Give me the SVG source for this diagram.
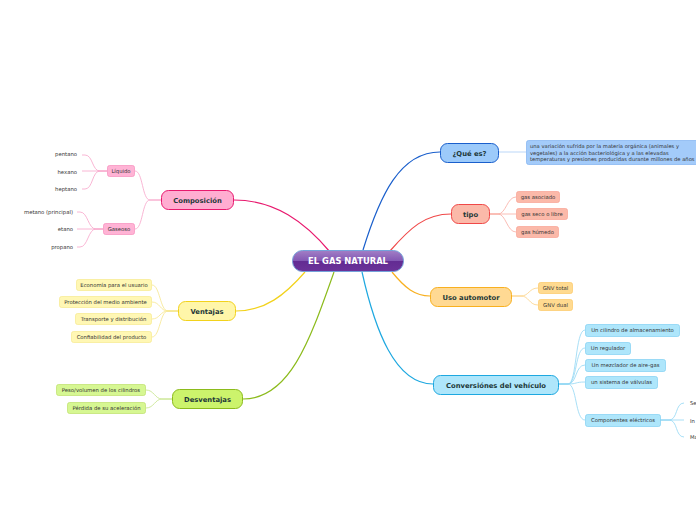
<svg xmlns="http://www.w3.org/2000/svg" width="696" height="520" viewBox="0 0 696 520">
<defs>
<linearGradient id="cg" x1="0" y1="0" x2="0" y2="1">
<stop offset="0" stop-color="#a27fc6"/>
<stop offset="0.5" stop-color="#8257b3"/>
<stop offset="0.52" stop-color="#632c93"/>
<stop offset="1" stop-color="#6b3299"/>
</linearGradient>
</defs>
<style>
text{font-family:"DejaVu Sans","Liberation Sans",sans-serif;}
.main{font-size:6.8px;font-weight:bold;fill:#1d3838;text-anchor:middle;}
.leaf{font-size:5.3px;fill:#333;text-anchor:middle;}
.lt{font-size:5.3px;fill:#333;text-anchor:end;}
.c{fill:none;stroke-width:1.2;}
.s{fill:none;stroke-width:0.8;}
</style>
<rect width="696" height="520" fill="#ffffff"/>
<g id="connectors">
<path class="c" stroke="#e8196e" d="M330 252 C305 222 275 200 234 200"/>
<path class="c" stroke="#f2d21c" d="M305 272 C285 295 265 311 236 311"/>
<path class="c" stroke="#8cbb1c" d="M334 272 C310 340 290 399 243 399"/>
<path class="c" stroke="#1a5fcc" d="M363 250 C380 195 400 152 440 152"/>
<path class="c" stroke="#f04848" d="M390 251 C410 228 425 214 451 214"/>
<path class="c" stroke="#f8b020" d="M392 272 C405 288 415 296 430 296"/>
<path class="c" stroke="#1ea8e0" d="M362 272 C375 330 395 384 433 384"/>
<g class="s" stroke="#f7a3c9">
<path d="M161 200 H150 C142 200 143 171 135 171"/>
<path d="M161 200 H150 C142 200 143 229 135 229"/>
<path d="M107 171 H100 C92 171 93 155 85 155 H82"/>
<path d="M107 171 H82"/>
<path d="M107 171 H100 C92 171 93 189 85 189 H82"/>
<path d="M103 229 H96 C88 229 88 212 80 212 H77"/>
<path d="M103 229 H77"/>
<path d="M103 229 H96 C88 229 88 247 80 247 H77"/>
</g>
<g class="s" stroke="#f6e68c">
<path d="M178 311 H168 C160 311 160 285 152 285"/>
<path d="M178 311 H168 C160 311 160 302 152 302"/>
<path d="M178 311 H168 C160 311 160 319 152 319"/>
<path d="M178 311 H168 C160 311 160 337 152 337"/>
</g>
<g class="s" stroke="#c4e386">
<path d="M172 399 H162 C155 399 154 390 146 390"/>
<path d="M172 399 H162 C155 399 154 408 146 408"/>
</g>
<path class="s" stroke="#a9cdf6" stroke-width="1.2" d="M498 152 H526"/>
<g class="s" stroke="#f9aca2">
<path d="M489 214 H498 C506 214 507 197 516 197"/>
<path d="M489 214 H516"/>
<path d="M489 214 H498 C506 214 507 232 516 232"/>
</g>
<g class="s" stroke="#fcd283">
<path d="M512 296 H521 C529 296 529 288 538 288"/>
<path d="M512 296 H521 C529 296 529 305 538 305"/>
</g>
<g class="s" stroke="#92d7f4">
<path d="M559 384 H568 C577 384 575 330 585 330"/>
<path d="M559 384 H568 C577 384 575 348 585 348"/>
<path d="M559 384 H568 C577 384 575 365 585 365"/>
<path d="M559 384 H568 C577 384 575 382 585 382"/>
<path d="M559 384 H568 C577 384 575 420 585 420"/>
<path d="M660 420 H669 C678 420 675 403 684 403"/>
<path d="M660 420 H684"/>
<path d="M660 420 H669 C678 420 675 437 684 437"/>
</g>
</g>
<g id="central">
<rect x="292.5" y="250.5" width="111" height="21" rx="10" fill="url(#cg)" stroke="#74a2da" stroke-width="1"/>
<text x="348" y="264" font-size="8.4" font-weight="bold" fill="#ffffff" text-anchor="middle">EL GAS NATURAL</text>
</g>
<g id="composicion">
<rect x="161.5" y="190.5" width="72" height="19" rx="7" fill="#ffadd1" stroke="#e8196e"/>
<text class="main" x="197.5" y="202.5">Composición</text>
</g>
<g id="liquido">
<rect x="107.5" y="165.5" width="27" height="11" rx="2" fill="#ffb3d5" stroke="#f78cbc" stroke-width="0.7"/>
<text class="leaf" x="121" y="172.8">Líquido</text>
</g>
<g id="gaseoso">
<rect x="103.5" y="223.5" width="31" height="11" rx="2" fill="#ffb3d5" stroke="#f78cbc" stroke-width="0.7"/>
<text class="leaf" x="119" y="230.8">Gaseoso</text>
</g>
<g id="pentano"><text class="lt" x="77" y="156">pentano</text></g>
<g id="hexano"><text class="lt" x="77" y="173.5">hexano</text></g>
<g id="heptano"><text class="lt" x="77" y="191">heptano</text></g>
<g id="metano"><text class="lt" x="73" y="213.5">metano (principal)</text></g>
<g id="etano"><text class="lt" x="73" y="230.5">etano</text></g>
<g id="propano"><text class="lt" x="73" y="248.5">propano</text></g>
<g id="ventajas">
<rect x="178.5" y="301.5" width="57" height="19" rx="7" fill="#fff6a9" stroke="#f2d21c"/>
<text class="main" x="207" y="313.5">Ventajas</text>
</g>
<g id="v1"><rect x="76.5" y="279.5" width="75" height="11" rx="2" fill="#fff7b4" stroke="#f7e98c" stroke-width="0.7"/><text class="leaf" x="114" y="286.8">Economía para el usuario</text></g>
<g id="v2"><rect x="59.5" y="296.5" width="92" height="11" rx="2" fill="#fff7b4" stroke="#f7e98c" stroke-width="0.7"/><text class="leaf" x="105.5" y="303.8">Protección del medio ambiente</text></g>
<g id="v3"><rect x="75.5" y="313.5" width="76" height="11" rx="2" fill="#fff7b4" stroke="#f7e98c" stroke-width="0.7"/><text class="leaf" x="113.5" y="320.8">Transporte y distribución</text></g>
<g id="v4"><rect x="71.5" y="331.5" width="80" height="11" rx="2" fill="#fff7b4" stroke="#f7e98c" stroke-width="0.7"/><text class="leaf" x="111.5" y="338.8">Confiabilidad del producto</text></g>
<g id="desventajas">
<rect x="172.5" y="389.5" width="70" height="19" rx="7" fill="#ccf36c" stroke="#8cbb1c"/>
<text class="main" x="207.5" y="401.5">Desventajas</text>
</g>
<g id="d1"><rect x="56.5" y="384.5" width="89" height="11" rx="2" fill="#d6f792" stroke="#bde06a" stroke-width="0.7"/><text class="leaf" x="101" y="391.8">Peso/volumen de los cilindros</text></g>
<g id="d2"><rect x="67.5" y="402.5" width="78" height="11" rx="2" fill="#d6f792" stroke="#bde06a" stroke-width="0.7"/><text class="leaf" x="106.5" y="409.8">Pérdida de su aceleración</text></g>
<g id="quees">
<rect x="440.5" y="143.5" width="58" height="19" rx="7" fill="#9ccafa" stroke="#1a5fcc"/>
<text class="main" x="469.5" y="155.5">¿Qué es?</text>
</g>
<g id="definicion">
<rect x="526.5" y="140.5" width="180" height="24" rx="2" fill="#a3cbfa" stroke="#7fb1f0" stroke-width="0.7"/>
<text font-size="5.2" fill="#333" x="530" y="148">una variación sufrida por la materia orgánica (animales y</text>
<text font-size="5.2" fill="#333" x="530" y="154.5">vegetales) a la acción bacteriológica y a las elevadas</text>
<text font-size="5.2" fill="#333" x="530" y="161">temperaturas y presiones producidas durante millones de años</text>
</g>
<g id="tipo">
<rect x="451.5" y="204.5" width="38" height="19" rx="7" fill="#fbb9a9" stroke="#f04848"/>
<text class="main" x="470.5" y="216.5">tipo</text>
</g>
<g id="t1"><rect x="516.5" y="191.5" width="43" height="11" rx="2" fill="#fbb9a9" stroke="#f8a092" stroke-width="0.7"/><text class="leaf" x="538" y="198.8">gas asociado</text></g>
<g id="t2"><rect x="516.5" y="208.5" width="51" height="11" rx="2" fill="#fbb9a9" stroke="#f8a092" stroke-width="0.7"/><text class="leaf" x="542" y="215.8">gas seco o libre</text></g>
<g id="t3"><rect x="516.5" y="226.5" width="42" height="11" rx="2" fill="#fbb9a9" stroke="#f8a092" stroke-width="0.7"/><text class="leaf" x="537.5" y="233.8">gas húmedo</text></g>
<g id="uso">
<rect x="430.5" y="287.5" width="81" height="19" rx="7" fill="#ffd993" stroke="#f8b020"/>
<text class="main" x="471" y="299.5">Uso automotor</text>
</g>
<g id="u1"><rect x="538.5" y="282.5" width="34" height="11" rx="2" fill="#ffda90" stroke="#fcc866" stroke-width="0.7"/><text class="leaf" x="555.5" y="289.8">GNV total</text></g>
<g id="u2"><rect x="538.5" y="299.5" width="34" height="11" rx="2" fill="#ffda90" stroke="#fcc866" stroke-width="0.7"/><text class="leaf" x="555.5" y="306.8">GNV dual</text></g>
<g id="conversiones">
<rect x="433.5" y="375.5" width="125" height="19" rx="7" fill="#aee6fb" stroke="#1ea8e0"/>
<text class="main" x="496" y="387.5">Conversiónes del vehículo</text>
</g>
<g id="c1"><rect x="585.5" y="324.5" width="94" height="12" rx="2" fill="#aee6fb" stroke="#7fd0f2" stroke-width="0.7"/><text class="leaf" x="632.5" y="332.3">Un cilindro de almacenamiento</text></g>
<g id="c2"><rect x="585.5" y="342.5" width="45" height="12" rx="2" fill="#aee6fb" stroke="#7fd0f2" stroke-width="0.7"/><text class="leaf" x="608" y="350.3">Un regulador</text></g>
<g id="c3"><rect x="585.5" y="359.5" width="80" height="12" rx="2" fill="#aee6fb" stroke="#7fd0f2" stroke-width="0.7"/><text class="leaf" x="625.5" y="367.3">Un mezclador de aire-gas</text></g>
<g id="c4"><rect x="585.5" y="376.5" width="72" height="12" rx="2" fill="#aee6fb" stroke="#7fd0f2" stroke-width="0.7"/><text class="leaf" x="621.5" y="384.3">un sistema de válvulas</text></g>
<g id="c5"><rect x="585.5" y="414.5" width="75" height="12" rx="2" fill="#aee6fb" stroke="#7fd0f2" stroke-width="0.7"/><text class="leaf" x="623" y="422.3">Componentes eléctricos</text></g>
<g id="e1"><text font-size="5.3" fill="#333" x="690" y="405">Se</text></g>
<g id="e2"><text font-size="5.3" fill="#333" x="690" y="423">In</text></g>
<g id="e3"><text font-size="5.3" fill="#333" x="690" y="439">Ma</text></g>
</svg>
